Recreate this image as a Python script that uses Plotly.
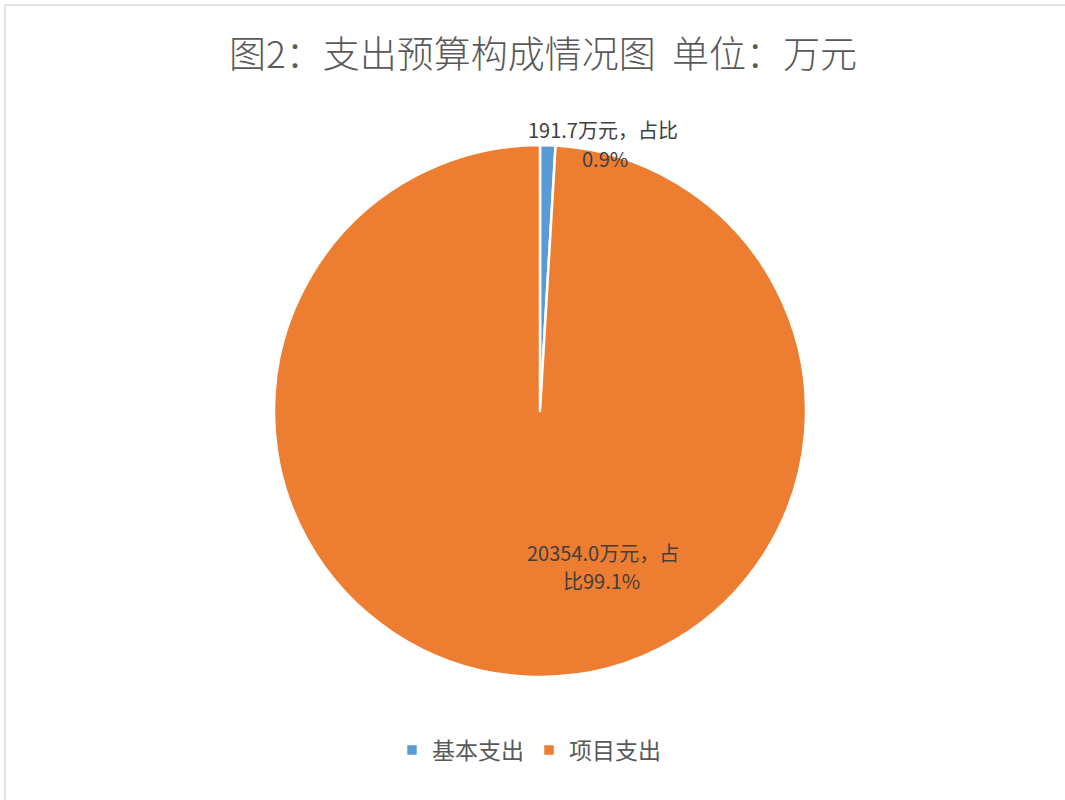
import plotly.graph_objects as go

categories = ["基本支出", "项目支出"]
values = [191.7, 20354.0]
colors = ["#5B9BD5", "#ED7D31"]
title_text = "图2：支出预算构成情况图  单位：万元"

W, H = 1065, 800
total = sum(values)
pcts = [v / total * 100 for v in values]

FONT = "Noto Sans CJK SC, Microsoft YaHei, sans-serif"

fig = go.Figure(go.Pie(
    labels=categories,
    values=values,
    sort=False,
    direction="clockwise",
    rotation=0,
    marker=dict(colors=colors, line=dict(color="white", width=2.5)),
    textinfo="none",
    hoverinfo="label+value+percent",
    domain=dict(x=[274 / W, 806 / W], y=[(800 - 677) / H, (800 - 145) / H]),
))

# label lines built from data
label_lines = [
    [f"{values[0]:.1f}万元，占比", f"{pcts[0]:.1f}%"],
    [f"{values[1]:.1f}万元，占", f"比{pcts[1]:.1f}%"],
]
label_pos = [[(603, 130), (605, 158)], [(603, 552), (601, 580)]]

annotations = []
for lines, poss in zip(label_lines, label_pos):
    for txt, (px, py) in zip(lines, poss):
        annotations.append(dict(
            text=txt, x=px / W, y=1 - py / H, xref="paper", yref="paper",
            xanchor="center", yanchor="middle", showarrow=False, align="center",
            borderpad=0,
            font=dict(family=FONT, size=20, color="#404040"),
        ))

fig.update_layout(
    width=W, height=H,
    margin=dict(l=0, r=0, t=0, b=0),
    paper_bgcolor="white",
    plot_bgcolor="white",
    title=dict(
        text=title_text, x=543 / W, xanchor="center", y=1 - 55 / H, yanchor="middle",
        font=dict(family=FONT, size=37, color="#595959", weight=300),
    ),
    showlegend=True,
    legend=dict(
        orientation="h", x=529 / W, xanchor="center", y=1 - 750 / H, yanchor="middle",
        font=dict(family=FONT, size=23, color="#595959"),
        itemwidth=30, traceorder="normal",
    ),
    annotations=annotations,
    shapes=[
        dict(type="line", xref="paper", yref="paper", x0=5 / W, x1=1.01, y0=1 - 5 / H, y1=1 - 5 / H,
             line=dict(color="#D9D9D9", width=1.5)),
        dict(type="line", xref="paper", yref="paper", x0=5 / W, x1=5 / W, y0=-0.01, y1=1 - 5 / H,
             line=dict(color="#D9D9D9", width=1.5)),
    ],
)

fig.write_html("out.html", config={"displayModeBar": False},
               post_script="document.body.style.margin='0';")
